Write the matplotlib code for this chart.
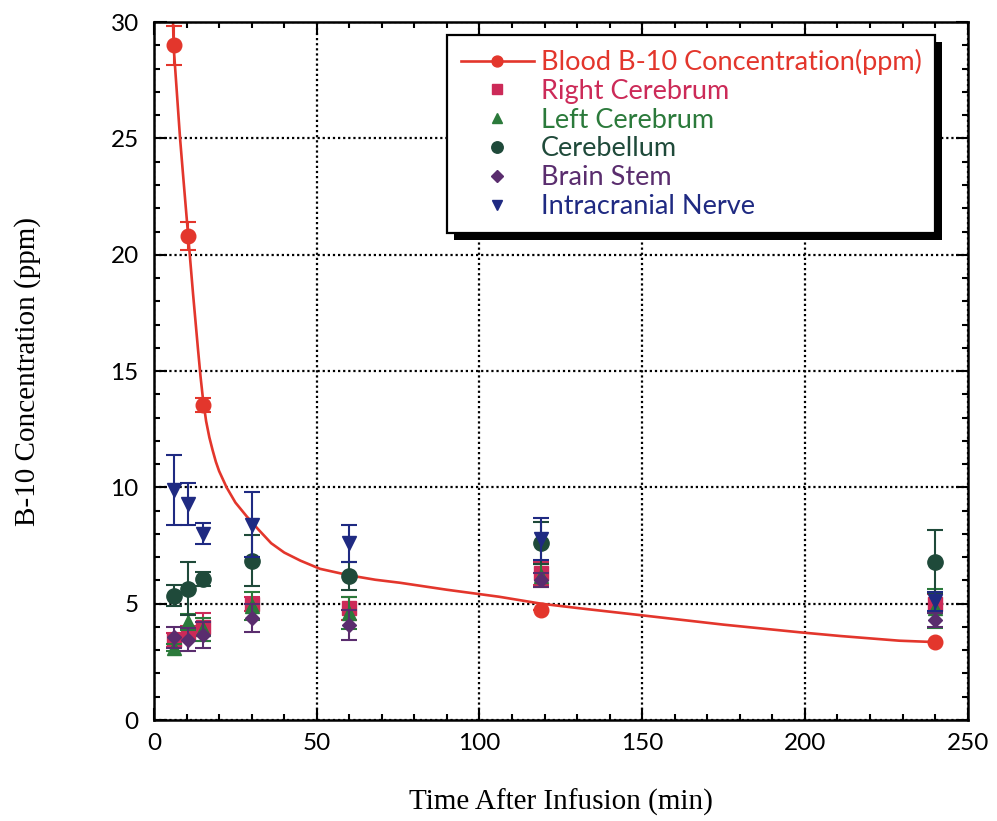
import numpy as np
import matplotlib.pyplot as plt
from matplotlib.lines import Line2D
from matplotlib.patches import Rectangle

# sampling times (min) and measured B-10 concentrations (ppm)
times = [6, 10.5, 15, 30, 60, 119, 240]

blood_times = [6, 10.5, 15, 119, 240]
blood = [29.0, 20.8, 13.55, 4.75, 3.35]
blood_err = [0.85, 0.6, 0.3, 0.0, 0.0]

# fitted blood clearance curve
fit_t = [5.8, 6.0, 7.0, 8.0, 9.0, 10.5, 12.0, 13.5, 14.3, 15.0, 16.0, 17.0, 18.0,
         19.0, 20.0, 22.3, 25.0, 28.5, 32.0, 36.0, 40.0, 45.0, 51.0, 60.0, 68.0,
         75.6, 90.0, 106.0, 119.0, 131.0, 150.0, 175.0, 198.5, 211.0, 229.0, 240.0]
fit_c = [30.3, 29.0, 27.0, 25.0, 23.3, 20.8, 18.3, 15.95, 14.75, 13.85, 12.85, 12.15, 11.6,
         11.1, 10.7, 10.0, 9.35, 8.75, 8.2, 7.6, 7.2, 6.85, 6.5, 6.22, 6.03,
         5.9, 5.6, 5.3, 5.0, 4.8, 4.5, 4.1, 3.77, 3.61, 3.41, 3.35]

right_cerebrum = [3.45, 3.75, 4.0, 5.0, 4.8, 6.3, 5.0]
right_cerebrum_err = [0.3, 0.3, 0.6, 0.3, 0.5, 0.5, 0.4]
left_cerebrum = [3.1, 4.2, 3.9, 4.9, 4.6, 6.2, 4.8]
left_cerebrum_err = [0.15, 0.35, 0.5, 0.6, 0.7, 0.5, 0.85]
cerebellum = [5.35, 5.65, 6.05, 6.85, 6.2, 7.6, 6.8]
cerebellum_err = [0.45, 1.15, 0.3, 1.1, 0.6, 0.9, 1.35]
brain_stem = [3.55, 3.45, 3.65, 4.4, 4.1, 6.0, 4.3]
brain_stem_err = [0.45, 0.5, 0.55, 0.6, 0.65, 0.3, 0.3]
nerve = [9.9, 9.3, 8.0, 8.4, 7.6, 7.8, 5.1]
nerve_err = [1.5, 0.9, 0.45, 1.4, 0.8, 0.9, 0.4]

labels = ["Blood B-10 Concentration(ppm)", "Right Cerebrum", "Left Cerebrum",
          "Cerebellum", "Brain Stem", "Intracranial Nerve"]
colors = ["#e3362c", "#cc2a58", "#2b7a3b", "#1f4a3a", "#5a2d6e", "#1f2a82"]

plt.rcParams.update({
    "font.family": "Lato",
    "xtick.direction": "in",
    "ytick.direction": "in",
})

fig = plt.figure(figsize=(9.97, 8.21), dpi=100)
ax = fig.add_axes([0.1545, 0.123, 0.816, 0.850])

# blood curve and points
ax.plot(fit_t, fit_c, color=colors[0], lw=1.9, zorder=2)
ax.errorbar(blood_times, blood, yerr=blood_err, fmt="o", color=colors[0], ms=10.5,
            ecolor=colors[0], elinewidth=1.5, capsize=5.5, capthick=1.5, zorder=3)

organs = [
    (right_cerebrum, right_cerebrum_err, "s", 9.5),
    (left_cerebrum, left_cerebrum_err, "^", 10.5),
    (cerebellum, cerebellum_err, "o", 11),
    (brain_stem, brain_stem_err, "D", 7.5),
    (nerve, nerve_err, "v", 10.5),
]
handles = []
for i, (vals, errs, mk, ms) in enumerate(organs):
    c = colors[i + 1]
    eb = ax.errorbar(times, vals, yerr=errs, fmt=mk, color=c, ms=ms,
                     ecolor=c, elinewidth=1.5, capsize=5.5, capthick=1.5,
                     zorder=4 + i * 0.1)
    handles.append(eb[0])

# legend entry for the blood series: line with a circle
blood_handle = Line2D([], [], color=colors[0], lw=1.9, marker="o", ms=10.5)

ax.set_xlim(0, 250)
ax.set_ylim(0, 30)
ax.set_xticks(np.arange(0, 251, 50))
ax.set_yticks(np.arange(0, 31, 5))
ax.set_xticks(np.arange(0, 251, 10), minor=True)
ax.set_yticks(np.arange(0, 31, 1), minor=True)
ax.tick_params(which="both", top=True, right=True, width=1.5, labelsize=17.5)
ax.tick_params(which="major", length=9, pad=9)
ax.tick_params(axis="y", which="major", pad=11)
ax.tick_params(which="minor", length=4.5)
for sp in ax.spines.values():
    sp.set_linewidth(1.8)

ax.grid(True, which="major", color="black", linestyle=(0, (1, 1.3)), linewidth=1.6)
ax.set_axisbelow(True)

ax.set_xlabel("Time After Infusion (min)", family="Liberation Serif", fontsize=21)
ax.set_ylabel("B-10 Concentration (ppm)", family="Liberation Serif", fontsize=21)
ax.xaxis.set_label_coords(0.5, -0.099)
ax.yaxis.set_label_coords(-0.139, 0.5)

leg = ax.legend([blood_handle] + handles, labels, loc="upper right",
                bbox_to_anchor=(0.960, 0.981), borderaxespad=0, fontsize=19.5,
                frameon=True, fancybox=False, edgecolor="black", framealpha=1,
                handlelength=2.7, handletextpad=0.25, borderpad=0.5,
                labelspacing=0.14, markerscale=0.75, numpoints=1)
leg.get_frame().set_linewidth(1.6)
leg.set_zorder(10)
for txt, c in zip(leg.get_texts(), colors):
    txt.set_color(c)

# solid drop shadow behind the legend box
fig.canvas.draw()
bb = leg.get_frame().get_window_extent()
shadow = Rectangle((bb.x0 + 7, bb.y0 - 7), bb.width, bb.height, transform=None,
                   facecolor="black", edgecolor="none", zorder=9.9, clip_on=False)
ax.add_artist(shadow)

fig.savefig("out.png", dpi=100)
